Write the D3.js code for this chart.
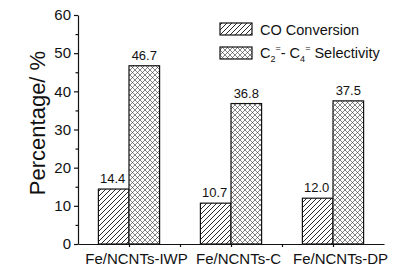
<!DOCTYPE html>
<html lang="en">
<head>
<meta charset="UTF-8">
<title></title>
<script src="https://d3js.org/d3.v7.min.js"></script>
<style>
  body { margin: 0; background: #fff; }
  text { font-family: "Liberation Sans", Arial, sans-serif; fill: #111; }
</style>
</head>
<body>
<script>
var categories = ["Fe/NCNTs-IWP", "Fe/NCNTs-C", "Fe/NCNTs-DP"];
var coConversion = [14.4, 10.7, 12.0];
var selectivity = [46.7, 36.8, 37.5];
var yTicks = [0, 10, 20, 30, 40, 50, 60];

var W = 412, H = 270;
var svg = d3.select("body").append("svg").attr("width", W).attr("height", H);

var defs = svg.append("defs");
var hatch = defs.append("pattern").attr("id", "hatch")
  .attr("patternUnits", "userSpaceOnUse").attr("width", 5).attr("height", 5);
hatch.append("rect").attr("width", 5).attr("height", 5).attr("fill", "#fff");
hatch.append("path").attr("d", "M-1,1 l2,-2 M0,5 l5,-5 M4,6 l2,-2")
  .attr("stroke", "#111").attr("stroke-width", 0.9);

var cross = defs.append("pattern").attr("id", "cross")
  .attr("patternUnits", "userSpaceOnUse").attr("width", 5).attr("height", 5);
cross.append("rect").attr("width", 5).attr("height", 5).attr("fill", "#fff");
cross.append("path").attr("d", "M-1,1 l2,-2 M0,5 l5,-5 M4,6 l2,-2 M-1,4 l2,2 M0,0 l5,5 M4,-1 l2,2")
  .attr("stroke", "#333").attr("stroke-width", 0.6);

var x = d3.scaleLinear().domain([0.5, 3.5]).range([78, 384]);
var y = d3.scaleLinear().domain([0, 60]).range([244, 15]);
var bw = 0.3;

// bars
var g = svg.append("g");
g.selectAll(".co").data(coConversion).enter().append("rect")
  .attr("class", "co")
  .attr("x", function(d, i){ return x(i + 1 - bw); })
  .attr("y", function(d){ return y(d); })
  .attr("width", function(){ return x(1) - x(1 - bw); })
  .attr("height", function(d){ return y(0) - y(d); })
  .attr("fill", "url(#hatch)").attr("stroke", "#111").attr("stroke-width", 1.2);
g.selectAll(".sel").data(selectivity).enter().append("rect")
  .attr("class", "sel")
  .attr("x", function(d, i){ return x(i + 1); })
  .attr("y", function(d){ return y(d); })
  .attr("width", function(){ return x(1 + bw) - x(1); })
  .attr("height", function(d){ return y(0) - y(d); })
  .attr("fill", "url(#cross)").attr("stroke", "#111").attr("stroke-width", 1.2);

// value labels
g.selectAll(".colab").data(coConversion).enter().append("text")
  .attr("x", function(d, i){ return x(i + 1 - bw / 2) - 1; })
  .attr("y", function(d){ return y(d) - 6; })
  .attr("text-anchor", "middle").attr("font-size", "13px")
  .text(function(d){ return d.toFixed(1); });
g.selectAll(".sellab").data(selectivity).enter().append("text")
  .attr("x", function(d, i){ return x(i + 1 + bw / 2); })
  .attr("y", function(d){ return y(d) - 6; })
  .attr("text-anchor", "middle").attr("font-size", "13px")
  .text(function(d){ return d.toFixed(1); });

// y axis
var yAxis = svg.append("g").attr("transform", "translate(78,0)")
  .call(d3.axisLeft(y).tickValues(yTicks).tickSize(4).tickSizeOuter(0).tickPadding(3));
yAxis.selectAll(".tick text").attr("font-size", "15px").attr("font-family", null);
svg.append("g").attr("transform", "translate(78,0)")
  .call(d3.axisLeft(y).tickValues([5, 15, 25, 35, 45, 55]).tickSize(2.5).tickFormat(""))
  .select(".domain").remove();

// x axis
var xAxis = svg.append("g").attr("transform", "translate(0,244)")
  .call(d3.axisBottom(x).tickValues([1, 2, 3]).tickSize(3).tickSizeOuter(0).tickPadding(6)
    .tickFormat(function(d){ return categories[d - 1]; }));
xAxis.selectAll(".tick text").attr("font-size", "15px").attr("font-family", null).attr("dx", 7);
svg.append("g").attr("transform", "translate(0,244)")
  .call(d3.axisBottom(x).tickValues([1.5, 2.5]).tickSize(3).tickFormat(""))
  .select(".domain").remove();

svg.selectAll(".domain, .tick line").attr("stroke", "#111").attr("stroke-width", 1.2);

// y label
svg.append("text")
  .attr("transform", "translate(45,123) rotate(-90)")
  .attr("text-anchor", "middle").attr("font-size", "22px")
  .text("Percentage/ %");

// legend
var lg = svg.append("g");
lg.append("rect").attr("x", 220).attr("y", 23).attr("width", 32).attr("height", 12)
  .attr("fill", "url(#hatch)").attr("stroke", "#111").attr("stroke-width", 1.2);
lg.append("rect").attr("x", 220).attr("y", 47).attr("width", 32).attr("height", 12)
  .attr("fill", "url(#cross)").attr("stroke", "#111").attr("stroke-width", 1.2);
lg.append("text").attr("x", 260).attr("y", 35).attr("font-size", "14.5px").text("CO Conversion");
var t2 = lg.append("text").attr("x", 260).attr("y", 58).attr("font-size", "14.5px");
t2.append("tspan").text("C");
t2.append("tspan").attr("font-size", "9px").attr("dy", 4).text("2");
t2.append("tspan").attr("font-size", "9px").attr("dy", -11).text("=");
t2.append("tspan").attr("dy", 7).text("- C");
t2.append("tspan").attr("font-size", "9px").attr("dy", 4).text("4");
t2.append("tspan").attr("font-size", "9px").attr("dy", -11).text("=");
t2.append("tspan").attr("dy", 7).text(" Selectivity");
</script>
</body>
</html>
